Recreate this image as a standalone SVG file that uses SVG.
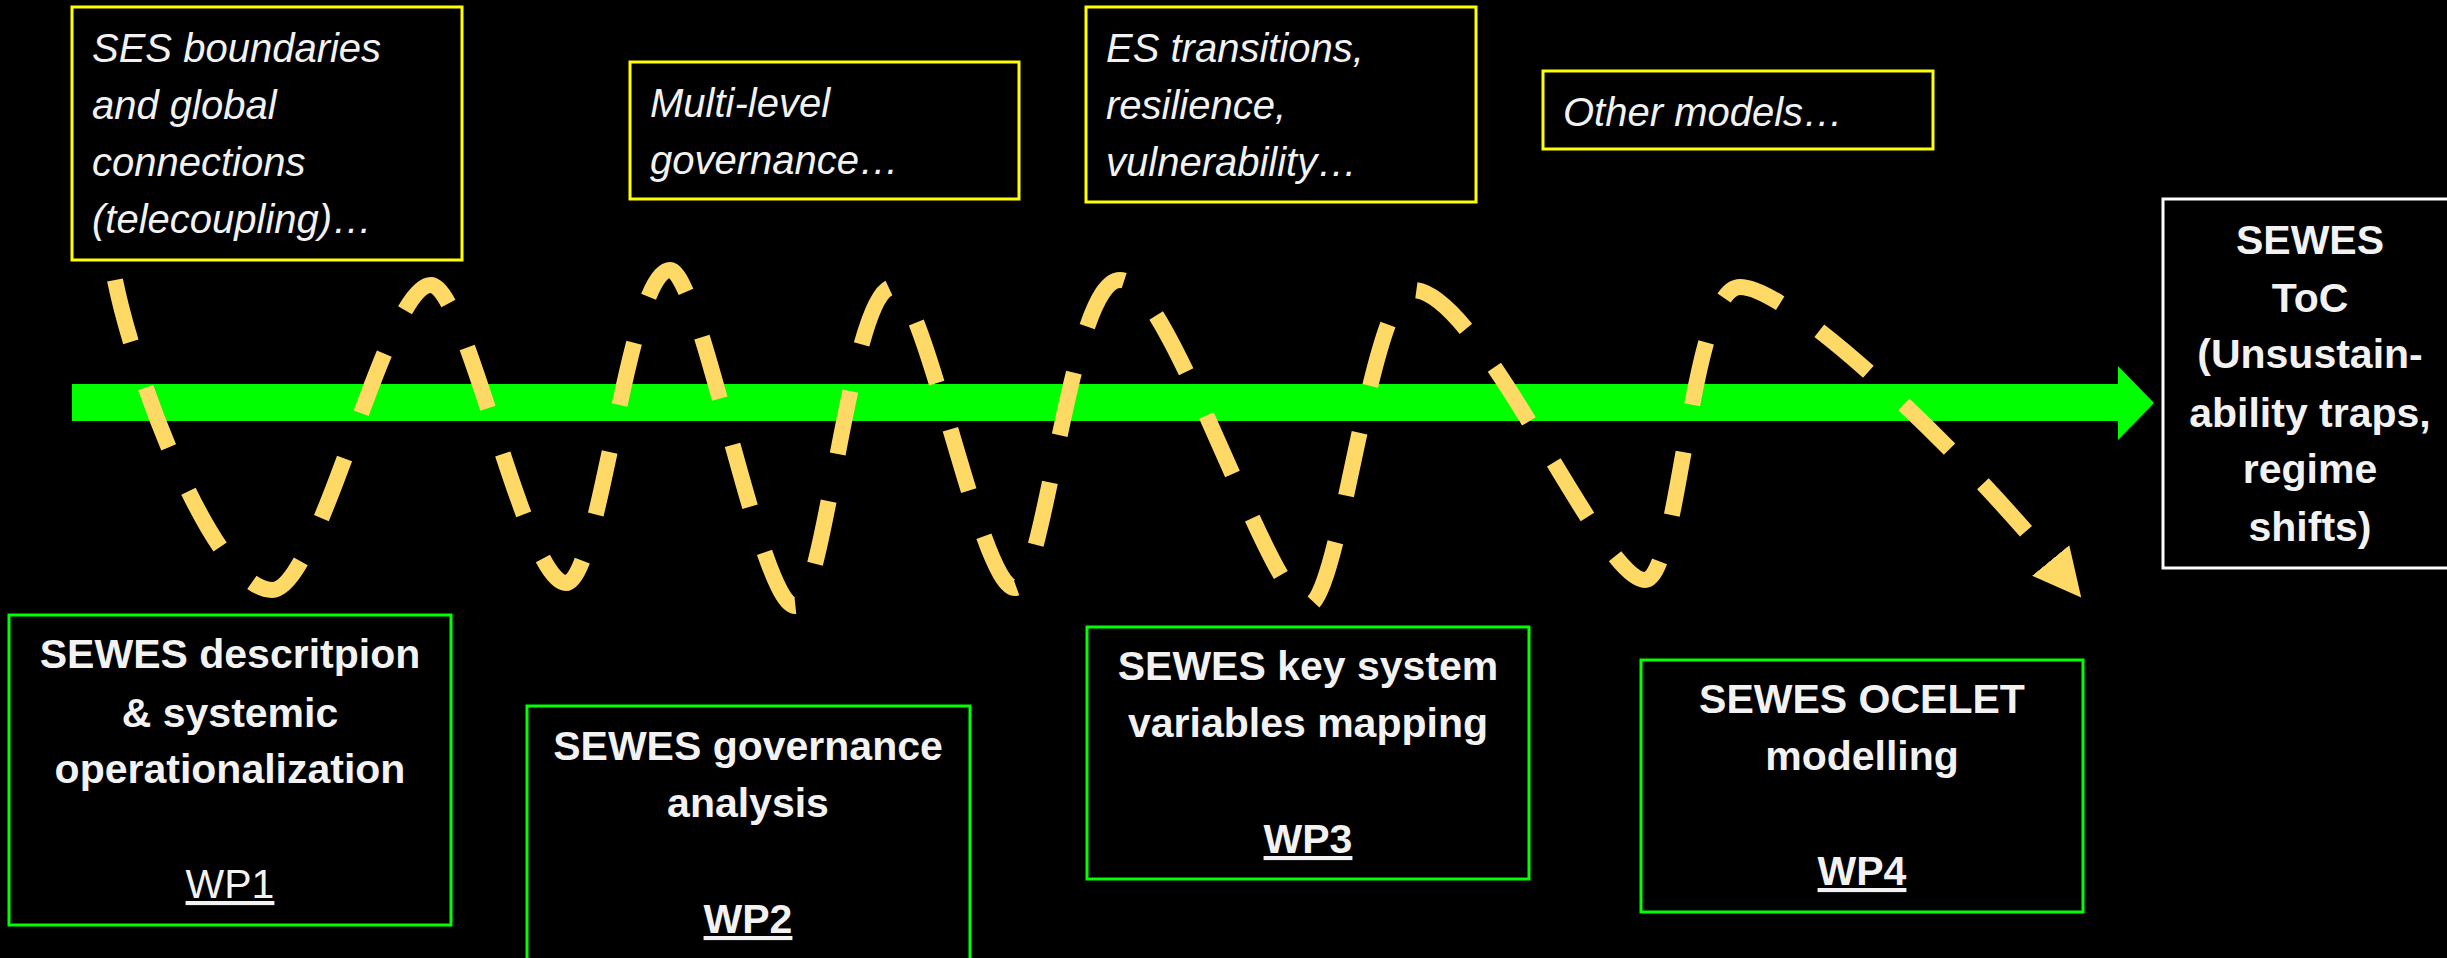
<svg xmlns="http://www.w3.org/2000/svg" width="2447" height="958" viewBox="0 0 2447 958">
<style>
.t{font-family:"Liberation Sans",Arial,sans-serif;fill:#F2F2F2;}
.it{font-style:italic;font-size:40px;}
.b{font-weight:bold;font-size:41px;}
.r{font-size:41px;}
.ybox{fill:#000;stroke:#FFFF00;stroke-width:3;}
.gbox{fill:#000;stroke:#00FF00;stroke-width:3;}
.wbox{fill:#000;stroke:#FFFFFF;stroke-width:3;}
.u{text-decoration:underline;}
.wave{fill:none;stroke:#FFD966;stroke-width:16;stroke-dasharray:64 48;stroke-linecap:butt;}
</style>
<defs>
<marker id="ah" markerUnits="userSpaceOnUse" markerWidth="50" markerHeight="50" viewBox="0 -25 50 50" refX="2" refY="0" orient="auto">
<path d="M0,-24 L48,0 L0,24 z" fill="#FFD966"/>
</marker>
</defs>
<rect x="0" y="0" width="2447" height="958" fill="#000"/>

<g id="timeline">
<polygon points="72,384 2118,384 2118,366 2154,403 2118,440 2118,421 72,421" fill="#00FF00"/>
</g>

<g id="connectors">
<path class="wave" marker-end="url(#ah)" d="M115,280 C135,380 215,590 272,590 C320,590 385,285 431,285 C466,285 525,583 566,583 C600,583 628,270 670,270 C700,270 760,606 795,606 C825,606 850,287 893,287 C925,287 980,588 1015,588 C1045,588 1070,280 1120,280 C1170,280 1270,605 1308,605 C1340,605 1370,290 1413,290 C1480,290 1600,580 1645,580 C1680,580 1690,287 1740,287 C1790,287 1960,450 2052,562"/>
</g>

<g id="note-ses">
<rect class="ybox" x="72" y="7" width="390" height="253"/>
<text class="t it" x="92" y="62">SES boundaries</text>
<text class="t it" x="92" y="119">and global</text>
<text class="t it" x="92" y="176">connections</text>
<text class="t it" x="92" y="233">(telecoupling)…</text>
</g>

<g id="note-governance">
<rect class="ybox" x="630" y="62" width="389" height="137"/>
<text class="t it" x="650" y="117">Multi-level</text>
<text class="t it" x="650" y="174">governance…</text>
</g>

<g id="note-es">
<rect class="ybox" x="1086" y="7" width="390" height="195"/>
<text class="t it" x="1106" y="62">ES transitions,</text>
<text class="t it" x="1106" y="119">resilience,</text>
<text class="t it" x="1106" y="176">vulnerability…</text>
</g>

<g id="note-other">
<rect class="ybox" x="1543" y="71" width="390" height="78"/>
<text class="t it" x="1563" y="126">Other models…</text>
</g>

<g id="toc">
<rect class="wbox" x="2163" y="199" width="294" height="369"/>
<g class="t b" text-anchor="middle">
<text x="2310" y="254">SEWES</text>
<text x="2310" y="312">ToC</text>
<text x="2310" y="368">(Unsustain-</text>
<text x="2310" y="427">ability traps,</text>
<text x="2310" y="483">regime</text>
<text x="2310" y="541">shifts)</text>
</g>
</g>

<g id="wp1">
<rect class="gbox" x="9" y="615" width="442" height="310"/>
<g class="t" text-anchor="middle">
<text class="b" x="230" y="668">SEWES descritpion</text>
<text class="b" x="230" y="727">&amp; systemic</text>
<text class="b" x="230" y="783">operationalization</text>
<text class="r u" x="230" y="898">WP1</text>
</g>
</g>

<g id="wp2">
<rect class="gbox" x="527" y="706" width="443" height="262"/>
<g class="t" text-anchor="middle">
<text class="b" x="748" y="760">SEWES governance</text>
<text class="b" x="748" y="817">analysis</text>
<text class="b u" x="748" y="933">WP2</text>
</g>
</g>

<g id="wp3">
<rect class="gbox" x="1087" y="627" width="442" height="252"/>
<g class="t" text-anchor="middle">
<text class="b" x="1308" y="680">SEWES key system</text>
<text class="b" x="1308" y="737">variables mapping</text>
<text class="b u" x="1308" y="853">WP3</text>
</g>
</g>

<g id="wp4">
<rect class="gbox" x="1641" y="660" width="442" height="252"/>
<g class="t" text-anchor="middle">
<text class="b" x="1862" y="713">SEWES OCELET</text>
<text class="b" x="1862" y="770">modelling</text>
<text class="b u" x="1862" y="885">WP4</text>
</g>
</g>
</svg>
